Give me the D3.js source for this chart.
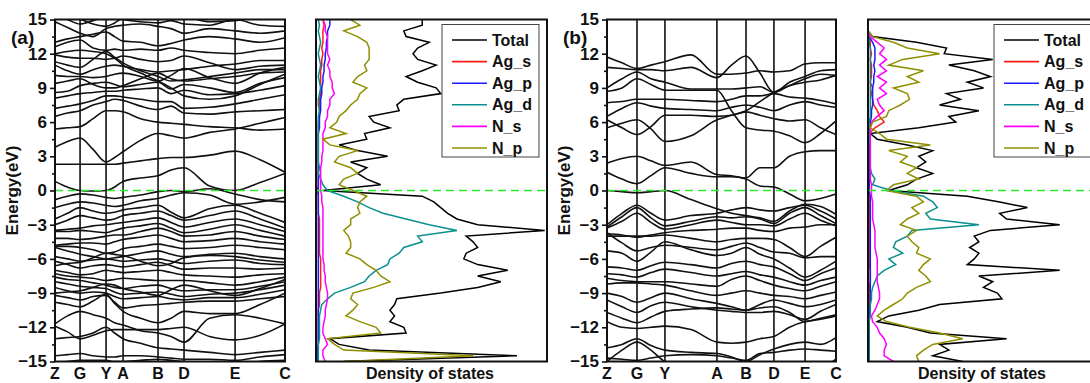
<!DOCTYPE html>
<html>
<head>
<meta charset="utf-8">
<script src="https://cdn.jsdelivr.net/npm/d3@7"></script>
<style>
  body { margin: 0; background: #fff; }
  svg text { font-family: "Liberation Sans", Arial, sans-serif; font-weight: bold; fill: #111; }
</style>
</head>
<body>
<svg id="chart" width="1090" height="383"></svg>
<script>
// Energy axis ticks and k-path labels
const energyTicks = [15, 12, 9, 6, 3, 0, -3, -6, -9, -12, -15];
const kLabels = ['Z', 'G', 'Y', 'A', 'B', 'D', 'E', 'C'];
const kNodesA = [0, 0.109, 0.222, 0.296, 0.448, 0.561, 0.783, 1];
const kNodesB = [0, 0.131, 0.253, 0.480, 0.607, 0.729, 0.865, 1];

// Bands: energy at Z, Z-G, G, G-Y, Y, Y-A, A, A-B, B, B-D, D, D-E, E, E-C, C
const bandsA = [
  [0.8, 0.3, 0.0, -0.05, 0.0, 0.3, 0.8, 1.1, 1.3, 1.8, 2.0, 0.4, 0.0, 0.7, 1.5],
  [2.3, 2.3, 2.3, 2.3, 2.3, 2.3, 2.4, 2.6, 2.8, 2.9, 2.9, 3.1, 3.45, 2.7, 1.6],
  [3.8, 4.3, 4.6, 3.6, 2.5, 2.9, 3.4, 4.4, 5.0, 4.8, 4.6, 5.1, 5.4, 5.9, 6.4],
  [5.4, 5.5, 5.6, 6.3, 7.0, 7.0, 6.9, 6.3, 6.0, 5.9, 5.8, 5.6, 5.5, 5.3, 5.4],
  [6.5, 6.8, 7.0, 7.5, 7.8, 8.0, 7.9, 7.4, 7.1, 7.4, 6.8, 6.7, 6.9, 7.0, 7.1],
  [7.2, 7.4, 7.6, 7.9, 8.3, 8.3, 8.2, 8.0, 7.8, 7.8, 7.2, 7.3, 7.6, 8.0, 8.4],
  [8.1, 8.3, 8.5, 8.6, 8.7, 8.7, 8.8, 8.9, 9.0, 8.5, 8.8, 8.4, 8.5, 8.8, 9.2],
  [8.6, 8.7, 9.2, 9.4, 9.5, 9.3, 9.1, 9.3, 9.5, 8.9, 9.3, 9.0, 8.6, 9.4, 9.9],
  [9.4, 9.6, 9.8, 9.3, 9.0, 9.0, 9.2, 9.8, 10.3, 9.8, 9.6, 9.8, 10.0, 10.3, 10.4],
  [10.1, 10.0, 10.0, 9.9, 10.0, 10.2, 10.3, 10.0, 9.6, 10.1, 10.7, 9.9, 9.4, 10.3, 10.8],
  [11.0, 10.5, 10.2, 10.6, 10.9, 11.0, 10.9, 10.6, 10.4, 10.5, 10.6, 10.9, 11.1, 11.4, 11.4],
  [11.3, 11.0, 10.8, 11.5, 12.2, 11.7, 11.2, 10.5, 10.0, 9.6, 9.7, 10.0, 10.3, 10.6, 10.6],
  [11.9, 11.7, 11.6, 11.6, 11.5, 11.6, 11.8, 11.5, 11.3, 11.4, 11.8, 11.2, 10.6, 10.9, 11.0],
  [12.0, 12.2, 12.3, 12.2, 12.0, 11.6, 11.0, 10.3, 9.6, 9.0, 8.3, 8.0, 8.3, 9.3, 10.2],
  [12.6, 13.0, 13.2, 12.5, 12.3, 12.4, 12.3, 12.4, 12.3, 12.5, 12.3, 12.1, 12.0, 12.3, 12.5],
  [13.0, 13.3, 13.5, 13.7, 13.9, 13.5, 13.1, 13.0, 12.7, 12.9, 13.2, 13.5, 13.3, 13.0, 13.4],
  [14.8, 14.3, 13.8, 13.5, 14.2, 14.4, 14.5, 14.6, 14.4, 14.2, 13.8, 14.2, 14.0, 13.8, 14.0],
  [15.5, 15.0, 14.6, 14.9, 15.2, 15.2, 15.0, 14.8, 14.7, 14.9, 14.6, 14.5, 15.0, 14.5, 14.4],
  [15.2, 15.1, 15.0, 14.6, 14.4, 14.7, 15.1, 15.2, 15.0, 15.1, 15.2, 14.8, 14.9, 15.3, 15.2],
  [-0.8, -0.5, -0.3, -0.4, -0.6, -0.7, -0.6, -0.4, -0.1, 0.0, -0.1, 0.15, -0.3, -0.8, -1.0],
  [-1.5, -1.2, -1.0, -1.1, -1.3, -1.4, -1.3, -0.9, -0.7, -0.4, -0.2, -0.4, -1.2, -1.0, -0.6],
  [-2.5, -2.0, -1.5, -1.8, -2.0, -1.9, -1.7, -1.5, -1.3, -1.9, -2.4, -1.6, -1.3, -2.0, -2.8],
  [-3.0, -2.6, -2.2, -2.4, -2.6, -2.5, -2.2, -2.0, -1.8, -2.2, -2.6, -2.2, -1.8, -2.5, -3.3],
  [-3.5, -3.4, -3.3, -3.1, -3.0, -2.9, -2.8, -2.6, -2.4, -2.8, -3.2, -2.8, -2.5, -3.0, -3.6],
  [-3.6, -3.6, -3.5, -3.6, -3.7, -3.5, -3.3, -3.1, -2.9, -3.3, -3.7, -3.4, -3.0, -3.5, -4.0],
  [-4.2, -4.2, -4.3, -4.2, -4.0, -3.9, -3.9, -3.6, -3.3, -3.6, -4.0, -3.9, -3.6, -4.0, -4.3],
  [-4.8, -4.7, -4.6, -4.6, -4.7, -4.5, -4.3, -4.1, -3.9, -4.2, -4.5, -4.4, -4.2, -4.5, -4.7],
  [-4.9, -4.9, -5.0, -5.2, -5.5, -5.4, -5.1, -4.9, -4.7, -4.9, -5.1, -5.0, -4.8, -5.0, -5.2],
  [-5.0, -5.3, -5.6, -5.8, -6.0, -5.9, -5.8, -5.5, -5.3, -5.6, -5.8, -5.6, -5.5, -5.8, -6.0],
  [-5.8, -6.0, -6.2, -6.1, -6.0, -6.1, -6.2, -6.1, -6.0, -6.2, -6.4, -6.2, -6.1, -6.4, -6.5],
  [-6.6, -6.4, -6.3, -5.9, -5.5, -5.6, -5.7, -6.2, -6.6, -6.4, -5.9, -5.7, -5.8, -6.1, -6.3],
  [-6.2, -6.5, -6.8, -6.6, -6.5, -6.6, -6.7, -6.5, -6.3, -6.6, -6.9, -6.8, -6.8, -6.9, -6.8],
  [-7.0, -7.2, -7.4, -7.3, -7.0, -7.1, -7.2, -7.1, -7.0, -7.2, -7.4, -7.5, -7.6, -7.4, -7.3],
  [-7.3, -7.5, -7.6, -7.7, -7.9, -7.8, -7.7, -7.8, -7.9, -7.9, -7.9, -8.1, -8.3, -8.0, -7.6],
  [-7.6, -7.8, -7.9, -8.1, -8.3, -8.5, -8.6, -8.4, -8.3, -8.6, -8.8, -8.7, -8.7, -8.4, -8.0],
  [-8.0, -8.2, -8.4, -8.5, -8.6, -8.9, -9.1, -9.0, -8.9, -9.1, -9.3, -9.1, -9.0, -8.7, -8.3],
  [-9.0, -8.9, -8.8, -8.5, -8.2, -8.3, -8.6, -8.9, -9.2, -8.7, -8.3, -8.8, -9.2, -8.6, -7.8],
  [-8.5, -8.8, -9.0, -8.9, -9.0, -9.3, -9.5, -9.4, -9.3, -9.5, -9.6, -9.4, -9.4, -9.1, -8.7],
  [-9.2, -9.4, -9.6, -9.3, -9.2, -9.8, -10.3, -10.1, -10.0, -9.9, -9.8, -9.7, -9.7, -9.5, -9.3],
  [-9.8, -10.0, -10.2, -9.7, -9.1, -9.9, -10.6, -11.2, -11.6, -11.2, -10.6, -10.8, -10.8, -10.0, -9.0],
  [-11.7, -11.0, -10.6, -10.9, -11.2, -11.6, -11.8, -12.3, -12.5, -12.8, -13.3, -11.2, -10.9, -11.2, -11.7],
  [-11.9, -12.4, -13.0, -12.7, -12.3, -12.2, -12.2, -12.2, -12.2, -12.1, -12.0, -12.8, -13.1, -12.7, -11.7],
  [-13.0, -12.9, -12.8, -12.5, -12.0, -12.5, -13.0, -13.4, -13.8, -13.9, -14.0, -14.2, -14.4, -14.2, -14.0],
  [-14.5, -14.4, -14.3, -14.5, -14.6, -14.6, -14.5, -14.5, -14.6, -14.7, -14.8, -14.8, -14.9, -14.6, -14.4],
  [-15.1, -15.0, -14.9, -14.9, -14.9, -15.0, -15.0, -14.9, -14.8, -14.9, -15.0, -15.1, -15.2, -15.0, -14.9]
];

const bandsB = [
  [11.7, 11.2, 10.7, 11.0, 11.3, 11.9, 10.2, 10.2, 10.3, 10.5, 10.4, 10.5, 11.1, 11.2, 11.2],
  [10.8, 10.7, 10.6, 10.6, 10.5, 10.8, 9.9, 11.0, 11.8, 10.3, 8.6, 9.5, 10.0, 10.5, 10.6],
  [9.0, 9.8, 10.4, 9.8, 9.5, 8.9, 8.9, 8.9, 9.0, 9.1, 8.6, 9.2, 9.5, 9.7, 10.1],
  [8.7, 9.0, 9.8, 9.3, 8.8, 8.8, 8.8, 7.0, 5.5, 5.3, 5.2, 4.8, 4.2, 5.0, 6.1],
  [7.7, 7.8, 8.0, 8.0, 8.0, 7.9, 7.8, 8.0, 8.3, 8.3, 8.5, 8.2, 8.1, 7.9, 7.6],
  [6.5, 7.2, 7.7, 7.4, 7.2, 7.1, 7.0, 7.3, 7.5, 7.3, 7.0, 7.5, 7.8, 7.5, 7.3],
  [5.5, 5.9, 6.2, 5.4, 4.3, 4.8, 6.2, 6.6, 7.0, 7.8, 8.6, 9.2, 9.8, 10.2, 10.1],
  [6.2, 5.5, 4.9, 5.6, 6.6, 6.6, 6.5, 6.6, 6.9, 6.6, 6.3, 6.1, 6.2, 5.5, 4.9],
  [2.4, 2.8, 3.0, 2.6, 2.2, 2.5, 1.4, 1.3, 1.1, 2.0, 2.0, 3.0, 3.4, 3.5, 3.5],
  [1.6, 1.0, 0.6, 1.3, 2.0, 1.5, 1.2, 1.2, 1.0, 0.4, 0.3, -0.3, -0.9, -0.7, -0.3],
  [0.0, -0.1, -0.2, -0.1, 0.0, -0.8, -1.6, -2.0, -2.2, -2.4, -2.7, -1.8, -1.2, -1.4, -2.1],
  [-3.0, -2.0, -1.3, -2.0, -2.6, -2.2, -2.0, -1.7, -1.5, -1.7, -1.8, -1.5, -1.3, -1.8, -2.5],
  [-3.2, -2.3, -1.5, -2.4, -3.1, -2.7, -2.3, -2.4, -2.3, -2.5, -2.9, -2.0, -1.5, -2.2, -2.9],
  [-3.3, -2.7, -2.0, -2.8, -3.4, -3.0, -2.6, -2.8, -3.0, -3.0, -3.1, -2.5, -2.0, -2.6, -3.1],
  [-3.8, -3.9, -4.1, -3.9, -3.7, -3.5, -3.4, -3.3, -3.3, -3.5, -3.6, -3.3, -3.2, -3.0, -3.0],
  [-4.0, -4.0, -4.0, -4.0, -3.9, -4.2, -4.5, -4.3, -4.2, -4.2, -4.3, -5.0, -5.8, -4.9, -4.1],
  [-3.7, -4.6, -5.3, -5.0, -4.8, -5.0, -5.2, -4.9, -4.6, -5.0, -5.4, -5.5, -5.9, -5.8, -5.8],
  [-5.3, -5.5, -6.2, -5.4, -4.5, -5.2, -5.7, -5.5, -5.0, -5.6, -6.0, -6.8, -7.6, -7.0, -6.2],
  [-6.7, -6.8, -7.0, -6.6, -6.3, -6.5, -6.8, -6.4, -6.2, -6.5, -6.7, -7.3, -7.9, -7.3, -6.8],
  [-7.3, -7.4, -7.6, -7.2, -6.9, -7.2, -7.5, -7.3, -7.1, -7.4, -7.6, -8.0, -8.3, -7.9, -7.6],
  [-7.7, -7.9, -8.0, -8.0, -8.0, -8.2, -8.4, -7.8, -7.5, -7.9, -8.3, -8.6, -8.8, -8.4, -8.0],
  [-8.2, -8.1, -8.1, -8.2, -8.3, -8.8, -9.2, -9.0, -8.8, -9.0, -9.2, -9.3, -9.5, -9.2, -8.9],
  [-9.0, -9.3, -9.8, -9.4, -9.0, -9.5, -9.9, -10.2, -10.5, -10.0, -9.6, -9.9, -10.2, -10.0, -9.6],
  [-9.6, -10.2, -10.7, -10.1, -9.8, -10.2, -10.5, -10.6, -10.7, -10.7, -10.6, -10.9, -11.3, -10.6, -10.0],
  [-10.7, -11.2, -11.6, -11.1, -10.6, -10.4, -10.3, -10.4, -10.5, -10.3, -10.2, -10.7, -11.5, -11.2, -10.9],
  [-11.5, -12.0, -12.1, -12.0, -11.9, -12.2, -13.3, -13.4, -13.3, -13.0, -12.8, -12.0, -11.5, -11.3, -11.0],
  [-13.8, -13.5, -13.0, -13.6, -14.0, -14.2, -14.3, -14.6, -15.0, -14.4, -13.9, -13.5, -13.3, -13.5, -12.9],
  [-14.7, -14.8, -14.9, -14.7, -14.5, -14.4, -14.5, -14.7, -14.9, -14.3, -14.2, -14.0, -13.9, -14.0, -14.1],
  [-15.0, -14.0, -13.3, -14.0, -15.0, -15.5, -15.5, -15.5, -15.5, -15.5, -15.5, -15.5, -15.5, -15.5, -14.8]
];

// DOS, energies 15 down to -15 eV every 0.5 eV
const dosEnergy = d3.range(15, -15.01, -0.5);
const dosSeries = ['Total', 'Ag_s', 'Ag_p', 'Ag_d', 'N_s', 'N_p'];
const dosColors = ['#000000', '#ff1a1a', '#1a1aff', '#0a8f8f', '#ff00ff', '#8f8f00'];

const totalA = [46, 46, 38, 39, 49, 44, 42, 44, 52, 46, 39, 44, 52, 54, 38, 35, 36, 23, 25, 32,
  21, 22, 10, 18, 31, 15, 22, 18, 22, 28, 3, 46, 51, 54, 57, 61, 70, 99, 65, 68, 70,
  65, 64, 70, 83, 70, 80, 70, 54, 35, 34, 32, 34, 32, 38, 39, 6, 10, 23, 87, 12];
const agSA = [3, 3.5, 3, 3, 3, 2.5, 3, 2.5, 2.5, 2, 2, 2, 2, 2, 1.5, 1.5, 1.5, 1.5, 1, 1,
  1, 1, 1, 1, 1, 1, 1, 1, 1, 1, 0.5, 1, 1, 1, 1, 1.5, 1.5, 1.5, 1.5, 1.5, 1.5,
  1.5, 2, 2, 2, 2, 2, 2, 1.5, 1.5, 1.5, 1, 1, 1, 1, 1, 1, 1, 1, 0.5, 0.5];
const agPA = [6, 6, 5, 5, 4.5, 4.5, 4, 4, 3.5, 3.5, 3, 3, 2.5, 2.5, 2, 2, 2, 1.5, 1.5, 1.5,
  1, 1, 1, 1, 1, 1, 1, 1, 1, 1, 1, 1, 1, 1, 1, 1, 1, 1, 1, 1, 1,
  1, 1, 1, 1, 1, 1, 1, 1, 1, 1, 1, 1, 1, 1, 1, 1, 1, 0.5, 0.5, 0.5];
const agDA = [1, 1.5, 1, 1.5, 2, 1.5, 1, 1.5, 2, 1.5, 1, 1.5, 2, 1.5, 1, 1, 1.5, 1, 1, 1,
  1, 1, 1, 1, 1, 1, 1.5, 1, 2, 3, 5, 12, 18, 23, 29, 39, 49, 61, 44, 46, 38,
  36, 32, 31, 26, 23, 21, 15, 8, 5, 2.5, 2, 1.5, 1.5, 1.5, 1.5, 1.5, 1, 1, 1, 1];
const nSA = [3, 4, 4, 5, 5, 5, 5, 6, 5, 6, 6, 7, 7, 8, 6, 6, 5, 5, 4, 4,
  3, 3, 3, 3, 2.5, 2.5, 2, 2, 2, 2, 2, 2.5, 2.5, 3, 3, 3, 3, 3, 3, 3, 3,
  3, 3, 3.5, 3.5, 4, 4, 4.5, 5, 5, 4.5, 4, 4, 3.5, 3, 3, 4, 5, 3, 3, 4];
const nPA = [15, 19, 12, 18, 22, 23, 23, 23, 21, 22, 18, 16, 22, 19, 18, 15, 13, 10, 9, 6,
  13, 3, 6, 18, 10, 8, 15, 18, 12, 10, 16, 22, 19, 18, 19, 15, 15, 12, 14, 15, 15,
  13, 19, 22, 26, 28, 32, 25, 16, 15, 18, 16, 13, 19, 26, 28, 5, 8, 12, 68, 12];

const totalB = [0, 0, 0, 2, 21, 34, 33, 54, 35, 46, 53, 43, 50, 34, 40, 31, 48, 35, 38, 22,
  1, 4, 17, 28, 22, 25, 21, 28, 21, 17, 9, 43, 57, 69, 57, 60, 83, 53, 46, 48, 44,
  48, 46, 43, 83, 48, 54, 50, 56, 58, 31, 22, 9, 4, 17, 27, 60, 31, 35, 28, 41];
const agSB = [0, 0, 0, 0.5, 1, 1, 1.5, 1, 1.5, 1.5, 1.5, 1, 2, 1.5, 2, 2.5, 4, 5, 7, 3,
  0.5, 0.5, 0.5, 0.5, 0.5, 0.5, 0.5, 0.5, 0.5, 0.5, 0.5, 0.5, 0.5, 0.5, 0.5, 0.5, 0.5, 0.5, 0.5, 0.5, 0.5,
  0.5, 0.5, 0.5, 1, 1, 1, 0.5, 0.5, 0.5, 0.5, 0.5, 0.5, 0.5, 0.5, 0.5, 0.5, 0.5, 0.5, 0.5, 0.5];
const agPB = [0, 0, 0, 0.5, 2, 3, 3, 3, 2.5, 3, 2.5, 2.5, 2, 2, 2, 2, 1.5, 1.5, 1, 1,
  0.5, 0.5, 0.5, 0.5, 0.5, 0.5, 0.5, 0.5, 0.5, 0.5, 0.5, 1, 1, 1, 1, 1, 1, 1, 1, 1, 1,
  1, 1, 1, 1, 1, 1, 1, 1, 1, 1, 0.5, 0.5, 0.5, 0.5, 0.5, 0.5, 0.5, 0.5, 0.5, 0.5];
const agDB = [0, 0, 0, 0.5, 0.5, 1, 1, 1, 1, 1, 1, 1, 1, 1, 1, 1, 1, 1, 0.5, 0.5,
  0.5, 0.5, 1, 1, 1, 1, 1, 1.5, 3, 2, 10, 24, 28, 30, 25, 27, 48, 19, 17, 12, 11,
  15, 9, 12, 7, 4, 3, 2, 1.5, 1.5, 1, 1, 1, 0.5, 0.5, 0.5, 0.5, 0.5, 0.5, 0.5, 0.5];
const nSB = [0, 0, 0, 1, 4, 7, 5, 8, 5, 8, 4, 8, 5, 8, 4, 5, 7, 4, 1.5, 1,
  1, 1, 1, 1, 1, 1, 1, 1, 1, 1.5, 1.5, 1.5, 2, 2, 2, 2, 2.5, 3, 3, 3, 3,
  3.5, 4, 4, 4, 4, 4, 4.5, 5, 5, 4, 3, 1.5, 2, 4, 5, 7, 8, 7, 7, 11];
const nPB = [0, 0, 0, 2, 11, 17, 31, 15, 9, 24, 17, 22, 11, 17, 18, 14, 9, 8, 2, 1,
  5, 8, 27, 9, 17, 14, 21, 17, 22, 11, 8, 21, 24, 19, 22, 17, 14, 21, 17, 19, 22,
  21, 27, 24, 22, 25, 27, 21, 17, 15, 11, 7, 4, 8, 18, 31, 41, 28, 24, 21, 22];

const svg = d3.select('#chart');
const yTop = 19.5, yBot = 361.5;
const yScale = d3.scaleLinear().domain([-15, 15]).range([yBot, yTop]);
const fermiColor = '#2ee82e';

// midpoints between the high-symmetry nodes
function kGrid(nodes) {
  const g = [];
  nodes.forEach(function (n, i) {
    if (i > 0) g.push((nodes[i - 1] + n) / 2);
    g.push(n);
  });
  return g;
}

function drawBands(left, right, nodes, bands, id, tag) {
  const x = d3.scaleLinear().domain([0, 1]).range([left, right]);
  const grid = kGrid(nodes);
  svg.append('clipPath').attr('id', id)
    .append('rect').attr('x', left).attr('y', yTop).attr('width', right - left).attr('height', yBot - yTop);

  const line = d3.line()
    .x(function (d, i) { return x(grid[i]); })
    .y(function (d) { return yScale(d); })
    .curve(d3.curveMonotoneX);

  const g = svg.append('g').attr('clip-path', 'url(#' + id + ')');
  g.selectAll('path.band')
    .data(bands)
    .enter()
    .append('path')
    .attr('class', 'band')
    .attr('d', line)
    .attr('fill', 'none')
    .attr('stroke', '#111')
    .attr('stroke-width', 1.6);

  // high-symmetry vertical lines
  svg.selectAll('line.k' + id)
    .data(nodes.slice(1, -1))
    .enter()
    .append('line')
    .attr('class', 'k' + id)
    .attr('x1', function (d) { return x(d); })
    .attr('x2', function (d) { return x(d); })
    .attr('y1', yTop).attr('y2', yBot)
    .attr('stroke', '#111').attr('stroke-width', 1.6);

  // Fermi level
  svg.append('line')
    .attr('x1', left).attr('x2', right)
    .attr('y1', yScale(0)).attr('y2', yScale(0))
    .attr('stroke', fermiColor).attr('stroke-width', 1.7)
    .attr('stroke-dasharray', '8,5');

  // frame
  svg.append('rect')
    .attr('x', left).attr('y', yTop)
    .attr('width', right - left).attr('height', yBot - yTop)
    .attr('fill', 'none').attr('stroke', '#111').attr('stroke-width', 2);

  // Y axis
  const yAxis = d3.axisLeft(yScale).tickValues(energyTicks).tickSize(5).tickSizeOuter(0).tickPadding(3);
  const ga = svg.append('g')
    .attr('transform', 'translate(' + left + ',0)')
    .call(yAxis);
  ga.select('.domain').remove();
  ga.selectAll('line').attr('stroke', '#111').attr('stroke-width', 1.6);
  ga.selectAll('text').attr('font-size', 17).attr('fill', '#111')
    .style('font-family', '"Liberation Sans", Arial, sans-serif').style('font-weight', 'bold');

  const minorAxis = d3.axisLeft(yScale)
    .tickValues(d3.range(-13.5, 15, 3)).tickSize(3).tickFormat('');
  const gm = svg.append('g')
    .attr('transform', 'translate(' + left + ',0)')
    .call(minorAxis);
  gm.select('.domain').remove();
  gm.selectAll('line').attr('stroke', '#111').attr('stroke-width', 1.6);

  // k labels
  svg.selectAll('text.kl' + id)
    .data(kLabels)
    .enter()
    .append('text')
    .attr('class', 'kl' + id)
    .attr('x', function (d, i) { return x(nodes[i]); })
    .attr('y', 379)
    .attr('text-anchor', 'middle')
    .attr('font-size', 16)
    .text(function (d) { return d; });

  // axis title and panel tag
  svg.append('text')
    .attr('transform', 'translate(' + (left - 37) + ',' + yScale(0) + ') rotate(-90)')
    .attr('text-anchor', 'middle')
    .attr('font-size', 17)
    .text('Energy(eV)');
  svg.append('text')
    .attr('x', left - 44).attr('y', 44)
    .attr('font-size', 19)
    .text(tag);
}

function drawDos(left, right, seriesData, id) {
  const x = d3.scaleLinear().domain([0, 100]).range([left, right]);
  svg.append('clipPath').attr('id', id)
    .append('rect').attr('x', left).attr('y', yTop).attr('width', right - left).attr('height', yBot - yTop);

  const line = d3.line()
    .x(function (d) { return x(d); })
    .y(function (d, i) { return yScale(dosEnergy[i]); });

  const g = svg.append('g').attr('clip-path', 'url(#' + id + ')');
  g.selectAll('path.dos')
    .data(seriesData)
    .enter()
    .append('path')
    .attr('class', 'dos')
    .attr('d', line)
    .attr('fill', 'none')
    .attr('stroke', function (d, i) { return dosColors[i]; })
    .attr('stroke-width', 1.5);

  svg.append('line')
    .attr('x1', left).attr('x2', right)
    .attr('y1', yScale(0)).attr('y2', yScale(0))
    .attr('stroke', fermiColor).attr('stroke-width', 1.7)
    .attr('stroke-dasharray', '8,5');

  svg.append('rect')
    .attr('x', left).attr('y', yTop)
    .attr('width', right - left).attr('height', yBot - yTop)
    .attr('fill', 'none').attr('stroke', '#111').attr('stroke-width', 2);

  svg.append('text')
    .attr('x', left + 114).attr('y', 379)
    .attr('text-anchor', 'middle')
    .attr('font-size', 16)
    .text('Density of states');

  // legend
  const lx = right - 105, ly = 24.5;
  svg.append('rect')
    .attr('x', lx).attr('y', ly).attr('width', 97).attr('height', 132.5)
    .attr('fill', '#fff').attr('stroke', '#444').attr('stroke-width', 1);
  const items = svg.selectAll('g.leg' + id)
    .data(dosSeries)
    .enter()
    .append('g')
    .attr('class', 'leg' + id)
    .attr('transform', function (d, i) { return 'translate(' + lx + ',' + (ly + 15.5 + i * 21.6) + ')'; });
  items.append('line')
    .attr('x1', 10).attr('x2', 45)
    .attr('stroke', function (d, i) { return dosColors[i]; })
    .attr('stroke-width', 1.6);
  items.append('text')
    .attr('x', 50).attr('y', 5.5)
    .attr('font-size', 16)
    .text(function (d) { return d; });
}

drawBands(55, 285, kNodesA, bandsA, 'clipBA', '(a)');
drawDos(316, 547, [totalA, agSA, agPA, agDA, nSA, nPA], 'clipDA');
drawBands(607, 836, kNodesB, bandsB, 'clipBB', '(b)');
drawDos(868, 1099, [totalB, agSB, agPB, agDB, nSB, nPB], 'clipDB');
</script>
</body>
</html>
